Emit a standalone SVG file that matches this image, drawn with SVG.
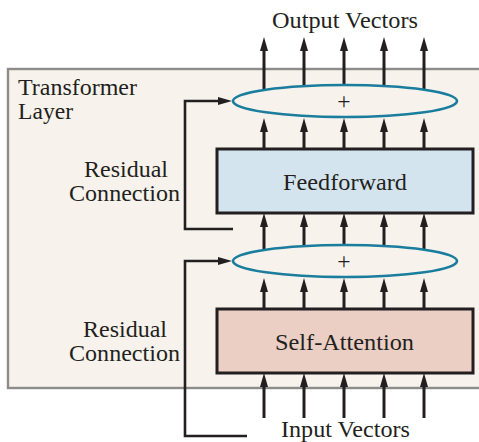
<svg xmlns="http://www.w3.org/2000/svg" width="479" height="442" viewBox="0 0 479 442">
<style>
.t{font-family:"Liberation Serif","Times New Roman",serif;font-size:23.6px;fill:#231f20}
.ar{stroke:#231f20;stroke-width:3;fill:none}
.rs{stroke:#231f20;stroke-width:2.6;fill:none}
.box{stroke:#231f20;stroke-width:3}
.ell{fill:#f7f3ec;stroke:#1a7d9e;stroke-width:2.6}
</style>
<defs>
<marker id="ah" viewBox="0 0 14 8" refX="4" refY="4" markerWidth="14" markerHeight="8" markerUnits="userSpaceOnUse" orient="auto">
<path d="M0,0 L14,4 L0,8 z" fill="#231f20"/>
</marker>
</defs>
<rect width="479" height="442" fill="#ffffff"/>
<g id="transformer-layer">
<rect x="8" y="69" width="480" height="319" fill="#f7f3ec" stroke="#8c8c8a" stroke-width="2.4"/>
<text class="t" x="18" y="95" textLength="119" lengthAdjust="spacingAndGlyphs">Transformer</text>
<text class="t" x="18" y="119" textLength="55" lengthAdjust="spacingAndGlyphs">Layer</text>
</g>
<g id="labels">
<text class="t" x="345" y="28" text-anchor="middle" textLength="146" lengthAdjust="spacingAndGlyphs">Output Vectors</text>
<text class="t" x="281" y="436.5" textLength="129" lengthAdjust="spacingAndGlyphs">Input Vectors</text>
<text class="t" x="84" y="177" textLength="84" lengthAdjust="spacingAndGlyphs">Residual</text>
<text class="t" x="69" y="201" textLength="111" lengthAdjust="spacingAndGlyphs">Connection</text>
<text class="t" x="83" y="337" textLength="84" lengthAdjust="spacingAndGlyphs">Residual</text>
<text class="t" x="69" y="361" textLength="111" lengthAdjust="spacingAndGlyphs">Connection</text>
</g>
<g id="connectors">
<g class="ar" marker-end="url(#ah)">
<line x1="264" y1="101" x2="264" y2="47"/>
<line x1="304" y1="101" x2="304" y2="47"/>
<line x1="344" y1="101" x2="344" y2="47"/>
<line x1="384" y1="101" x2="384" y2="47"/>
<line x1="424" y1="101" x2="424" y2="47"/>
<line x1="264" y1="149" x2="264" y2="128"/>
<line x1="304" y1="149" x2="304" y2="128"/>
<line x1="344" y1="149" x2="344" y2="128"/>
<line x1="384" y1="149" x2="384" y2="128"/>
<line x1="424" y1="149" x2="424" y2="128"/>
<line x1="264" y1="261" x2="264" y2="223"/>
<line x1="304" y1="261" x2="304" y2="223"/>
<line x1="344" y1="261" x2="344" y2="223"/>
<line x1="384" y1="261" x2="384" y2="223"/>
<line x1="424" y1="261" x2="424" y2="223"/>
<line x1="264" y1="309" x2="264" y2="288"/>
<line x1="304" y1="309" x2="304" y2="288"/>
<line x1="344" y1="309" x2="344" y2="288"/>
<line x1="384" y1="309" x2="384" y2="288"/>
<line x1="424" y1="309" x2="424" y2="288"/>
<line x1="264" y1="418" x2="264" y2="383"/>
<line x1="304" y1="418" x2="304" y2="383"/>
<line x1="344" y1="418" x2="344" y2="383"/>
<line x1="384" y1="418" x2="384" y2="383"/>
<line x1="424" y1="418" x2="424" y2="383"/>
</g>
<polyline class="rs" points="233,229 185,229 185,101 222,101" marker-end="url(#ah)"/>
<polyline class="rs" points="247,436 185,436 185,261 222,261" marker-end="url(#ah)"/>
</g>
<g id="add-top">
<ellipse class="ell" cx="345" cy="101" rx="112" ry="16"/>
<text class="t" x="344" y="109" text-anchor="middle" font-size="26">+</text>
</g>
<g id="feedforward">
<rect class="box" x="217" y="149" width="256" height="64" fill="#d3e4ee"/>
<text class="t" x="345" y="190" text-anchor="middle" textLength="124" lengthAdjust="spacingAndGlyphs">Feedforward</text>
</g>
<g id="add-bottom">
<ellipse class="ell" cx="345" cy="261" rx="112" ry="16"/>
<text class="t" x="344" y="269" text-anchor="middle" font-size="26">+</text>
</g>
<g id="self-attention">
<rect class="box" x="217" y="309" width="256" height="64" fill="#ebcfc4"/>
<text class="t" x="275" y="350" textLength="139" lengthAdjust="spacingAndGlyphs">Self-Attention</text>
</g>
</svg>
